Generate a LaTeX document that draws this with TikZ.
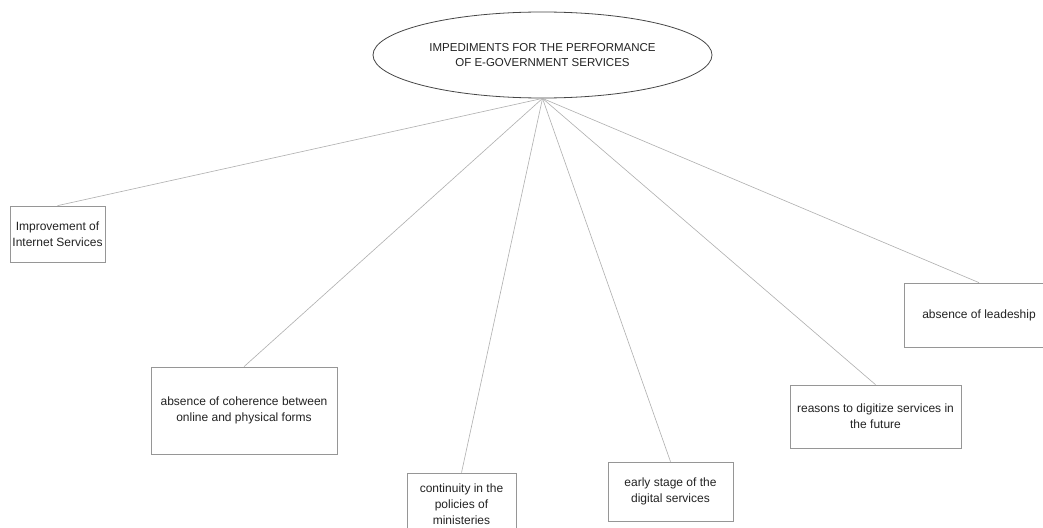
\documentclass[tikz,border=0pt]{standalone}
\usepackage{fontspec}
\setmainfont{Liberation Sans}
\usetikzlibrary{shapes.geometric}
\definecolor{inkgray}{RGB}{35,35,35}
\definecolor{boxgray}{RGB}{150,150,150}
\definecolor{linkgray}{RGB}{175,175,175}
\definecolor{rimgray}{RGB}{70,70,70}
\tikzset{
  topic/.style={ellipse, draw=rimgray, line width=0.8pt, inner sep=0pt,
    minimum width=339pt, minimum height=86pt, text=inkgray, align=center,
    font=\fontsize{11.5}{15}\selectfont},
  item/.style={rectangle, draw=boxgray, line width=0.7pt, inner sep=2pt,
    text=inkgray, align=center, font=\fontsize{12}{16}\selectfont},
  link/.style={draw=linkgray, line width=0.6pt},
}
\begin{document}
\begin{tikzpicture}[x=1pt, y=-1pt]
  \clip (0,0) rectangle (1043,527);
  \fill[white] (0,0) rectangle (1043,527);

  \node[topic] (root) at (542.5,55) {IMPEDIMENTS FOR THE PERFORMANCE\\OF E-GOVERNMENT SERVICES};

  \node[item, minimum width=95pt, minimum height=56pt] (internet) at (57.5,234)
    {Improvement of\\Internet Services};
  \node[item, minimum width=186pt, minimum height=87pt] (coherence) at (244,410.5)
    {absence of coherence between\\online and physical forms};
  \node[item, minimum width=109pt, minimum height=62pt] (continuity) at (461.5,504)
    {continuity in the\\policies of\\ministeries};
  \node[item, minimum width=125pt, minimum height=59pt] (early) at (670.5,491.5)
    {early stage of the\\digital services};
  \node[item, minimum width=171pt, minimum height=63pt] (reasons) at (875.5,416.5)
    {reasons to digitize services in\\the future};
  \node[item, minimum width=150pt, minimum height=64pt] (leadership) at (979,315)
    {absence of leadeship};

  \foreach \n in {internet,coherence,continuity,early,reasons,leadership}
    \draw[link] (root.south) -- (\n.north);
\end{tikzpicture}
\end{document}
